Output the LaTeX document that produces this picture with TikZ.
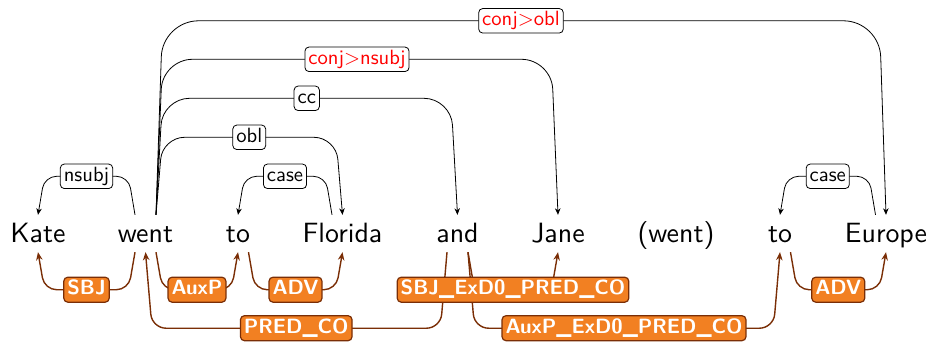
\documentclass[tikz,border=0pt]{standalone}
\usepackage{graphicx}
\usetikzlibrary{calc,arrows.meta}
\definecolor{ofill}{RGB}{242,128,34}
\definecolor{obrown}{RGB}{122,46,6}
\newcommand\wrd[1]{\scalebox{2.8}{#1}}
\newcommand\lbl[1]{\scalebox{2.07}{#1}}
\newcommand\mkarc[8]{%
  \draw[#1,rounded corners=#2] let \p1=#3, \p2=#4 in
    (\p1) -- ({\x1+(#5)},{\y1+(#6)}) -- node[#7]{\lbl{#8}} ({\x2-(#5)},{\y1+(#6)}) -- (\p2);}
\tikzset{
  word/.style={anchor=base, inner sep=0pt, text height=27bp, text depth=10bp,
    font=\fontsize{10}{12}\selectfont\sffamily},
  uarc/.style={draw=black, line width=0.8bp, -{Stealth[length=6.5bp,width=5.5bp,inset=2bp]}},
  oarc/.style={draw=obrown, line width=1.4bp, -{Stealth[length=8bp,width=6.5bp,inset=2.5bp]}},
  ulab/.style={draw=black, fill=white, rounded corners=4bp, line width=0.8bp,
    inner xsep=3.5bp, inner ysep=3bp, text height=14bp, text depth=4.5bp,
    font=\fontsize{10}{12}\selectfont\sffamily},
  rlab/.style={ulab, text=red},
  olab/.style={draw=obrown, fill=ofill, text=white, rounded corners=4bp, line width=1.2bp,
    inner xsep=3.5bp, inner ysep=2.5bp, text height=15bp, text depth=5bp,
    font=\fontsize{10}{12}\selectfont\sffamily\bfseries},
}
\begin{document}
\begin{tikzpicture}[x=1bp,y=1bp]
\useasboundingbox (0,0) rectangle (933,341);
% words
\node[word] (Kate)    at (38,99)    {\wrd{Kate}};
\node[word] (went)    at (145.5,99) {\wrd{went}};
\node[word] (to1)     at (238,99)   {\wrd{to}};
\node[word] (Florida) at (342.5,99) {\wrd{Florida}};
\node[word] (and)     at (457.5,99) {\wrd{and}};
\node[word] (Jane)    at (558,99)   {\wrd{Jane}};
\node[word] (wentb)   at (676,99)   {\wrd{(went)}};
\node[word] (to2)     at (780,99)   {\wrd{to}};
\node[word] (Europe)  at (886,99)   {\wrd{Europe}};
% upper arcs
\mkarc{uarc}{12bp}{($(went.north)+(-10.5bp,0)$)}{(Kate.north)}{-6.5bp}{38.5bp}{ulab}{nsubj}
\mkarc{uarc}{12bp}{($(Florida.north)+(-10.5bp,0)$)}{(to1.north)}{-6.5bp}{38.5bp}{ulab}{case}
\mkarc{uarc}{12bp}{($(Europe.north)+(-10.5bp,0)$)}{(to2.north)}{-6.5bp}{38.5bp}{ulab}{case}
\mkarc{uarc}{22bp}{($(went.north)+(10.5bp,0)$)}{(Florida.north)}{6.5bp}{77.5bp}{ulab}{obl}
\mkarc{uarc}{27bp}{($(went.north)+(10.5bp,0)$)}{(and.north)}{6.5bp}{116.5bp}{ulab}{cc}
\mkarc{uarc}{30bp}{($(went.north)+(10.5bp,0)$)}{(Jane.north)}{6.5bp}{155.5bp}{rlab}{conj\textgreater nsubj}
\mkarc{uarc}{36bp}{($(went.north)+(10.5bp,0)$)}{(Europe.north)}{6.5bp}{194bp}{rlab}{conj\textgreater obl}
% lower arcs
\mkarc{oarc}{12bp}{($(went.south)+(-10.5bp,0)$)}{(Kate.south)}{-6.5bp}{-37.5bp}{olab}{SBJ}
\mkarc{oarc}{12bp}{($(went.south)+(10.5bp,0)$)}{(to1.south)}{6.5bp}{-37.5bp}{olab}{AuxP}
\mkarc{oarc}{12bp}{($(to1.south)+(10.5bp,0)$)}{(Florida.south)}{6.5bp}{-37.5bp}{olab}{ADV}
\mkarc{oarc}{14bp}{($(and.south)+(-10.5bp,0)$)}{(went.south)}{-6.5bp}{-76bp}{olab}{PRED\_CO}
\mkarc{oarc}{14bp}{($(and.south)+(10.5bp,0)$)}{(to2.south)}{6.5bp}{-76bp}{olab}{AuxP\_ExD0\_PRED\_CO}
\mkarc{oarc}{12bp}{($(and.south)+(10.5bp,0)$)}{(Jane.south)}{6.5bp}{-37.5bp}{olab}{SBJ\_ExD0\_PRED\_CO}
\mkarc{oarc}{12bp}{($(to2.south)+(10.5bp,0)$)}{(Europe.south)}{6.5bp}{-37.5bp}{olab}{ADV}
\end{tikzpicture}
\end{document}
